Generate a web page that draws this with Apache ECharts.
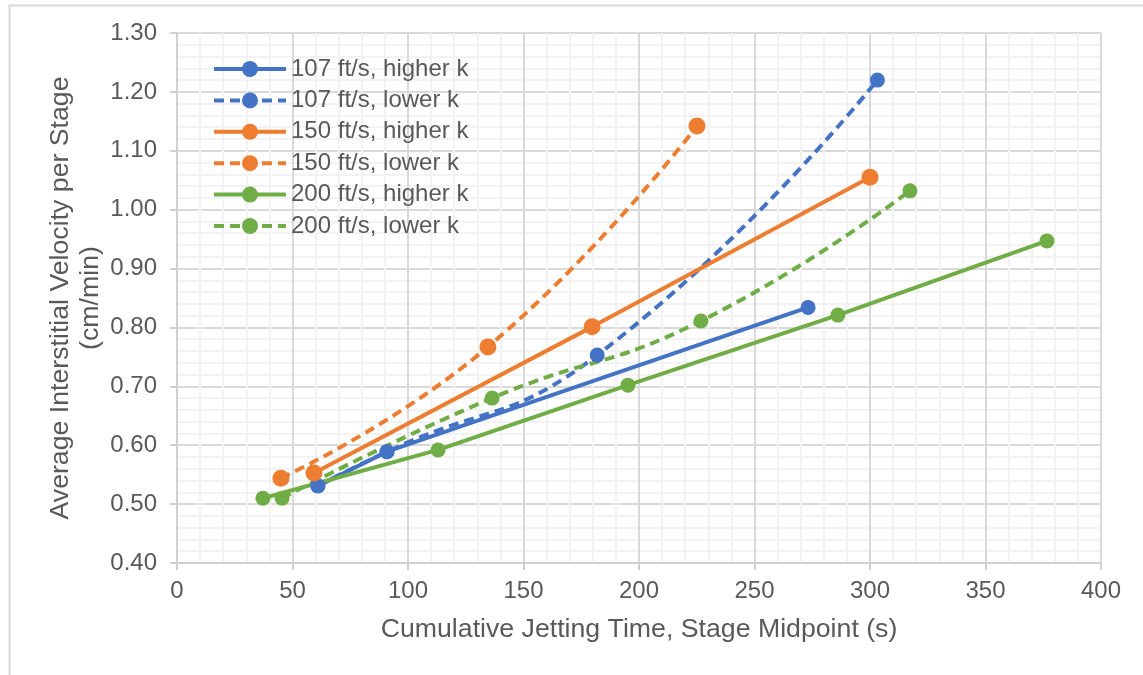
<!DOCTYPE html>
<html>
<head>
<meta charset="utf-8">
<script src="https://cdn.jsdelivr.net/npm/echarts@6/dist/echarts.min.js"></script>
<style>
html,body{margin:0;padding:0;background:#fff;}
#chart{width:1143px;height:675px;}
</style>
</head>
<body>
<div id="chart"></div>
<script>
// ---- data ----
const seriesNames = ["107 ft/s, higher k","107 ft/s, lower k","150 ft/s, higher k","150 ft/s, lower k","200 ft/s, higher k","200 ft/s, lower k"];
const t107hi = [61.0, 90.9, 273.2];
const v107hi = [0.531, 0.589, 0.834];
const t107lo = [61.0, 90.9, 181.9, 303.2];
const v107lo = [0.531, 0.589, 0.753, 1.220];
const t150hi = [59.3, 179.7, 300.0];
const v150hi = [0.553, 0.801, 1.055];
const t150lo = [45.0, 134.6, 225.1];
const v150lo = [0.544, 0.767, 1.142];
const t200hi = [37.2, 113.0, 195.2, 286.1, 376.6];
const v200hi = [0.510, 0.592, 0.702, 0.821, 0.947];
const t200lo = [45.5, 136.4, 226.8, 317.3];
const v200lo = [0.510, 0.680, 0.811, 1.032];
const xTicks = [0, 50, 100, 150, 200, 250, 300, 350, 400];
const yTicks = [0.40, 0.50, 0.60, 0.70, 0.80, 0.90, 1.00, 1.10, 1.20, 1.30];
const xTitle = "Cumulative Jetting Time, Stage Midpoint (s)";
const yTitle = "Average Interstitial Velocity per Stage\n(cm/min)";

const BLUE = "#4472C4", ORANGE = "#ED7D31", GREEN = "#70AD47";
const TEXT = "#595959";
const FONT = "Liberation Sans, Arial, sans-serif";

function pairs(xs, ys){ return xs.map((x,i)=>[x, ys[i]]); }

function mk(name, xs, ys, color, dashed, size){
  return {
    name: name, type: 'line',
    data: pairs(xs, ys),
    symbol: 'circle', symbolSize: size,
    smooth: dashed ? 0.5 : false,
    lineStyle: {color: color, width: 4, type: dashed ? [10, 6] : 'solid', cap: 'butt'},
    itemStyle: {color: color, borderWidth: 0},
    emphasis: {disabled: true},
    animation: false
  };
}

const chart = echarts.init(document.getElementById('chart'), null, {renderer: 'canvas'});
chart.setOption({
  backgroundColor: '#fff',
  animation: false,
  textStyle: {fontFamily: FONT, color: TEXT},
  graphic: [{
    type: 'rect', left: 7, top: 3, shape: {width: 1300, height: 800},
    style: {fill: 'none', stroke: '#D9D9D9', lineWidth: 2}, silent: true, z: -10
  }],
  grid: {left: 177, right: 42, top: 33, bottom: 112, containLabel: false},
  legend: {
    orient: 'vertical', left: 207, top: 50, padding: 5,
    itemWidth: 72, itemHeight: 20, itemGap: 3.4,
    lineStyle: {width: 4},
    itemStyle: {borderWidth: 0},
    textStyle: {fontFamily: FONT, fontSize: 24, color: TEXT, lineHeight: 28},
    data: seriesNames
  },
  xAxis: {
    type: 'value', min: xTicks[0], max: xTicks[xTicks.length-1], interval: 50,
    name: xTitle, nameLocation: 'middle', nameGap: 53, nameMoveOverlap: false,
    nameTextStyle: {fontFamily: FONT, fontSize: 26.7, color: TEXT},
    axisLine: {show: true, onZero: false, lineStyle: {color: '#D0D0D0', width: 2}},
    axisTick: {show: true, length: 7, lineStyle: {color: '#D0D0D0', width: 2}},
    axisLabel: {fontFamily: FONT, fontSize: 24, color: TEXT, margin: 16},
    splitLine: {show: true, lineStyle: {color: '#D9D9D9', width: 2}},
    minorTick: {show: false, splitNumber: 5},
    minorSplitLine: {show: true, lineStyle: {color: '#F2F2F2', width: 2}}
  },
  yAxis: {
    type: 'value', min: yTicks[0], max: yTicks[yTicks.length-1], interval: 0.1,
    name: yTitle, nameLocation: 'middle', nameGap: 71, nameRotate: 90, nameMoveOverlap: false,
    nameTextStyle: {fontFamily: FONT, fontSize: 26.7, color: TEXT, lineHeight: 30, align: 'center'},
    axisLine: {show: true, lineStyle: {color: '#D0D0D0', width: 2}},
    axisTick: {show: true, length: 7, lineStyle: {color: '#D0D0D0', width: 2}},
    axisLabel: {fontFamily: FONT, fontSize: 24, color: TEXT, margin: 20,
      formatter: v => v.toFixed(2)},
    splitLine: {show: true, lineStyle: {color: '#D9D9D9', width: 2}},
    minorTick: {show: false, splitNumber: 5},
    minorSplitLine: {show: true, lineStyle: {color: '#F2F2F2', width: 2}}
  },
  series: [
    mk(seriesNames[0], t107hi, v107hi, BLUE, false, 15),
    mk(seriesNames[1], t107lo, v107lo, BLUE, true, 15),
    mk(seriesNames[2], t150hi, v150hi, ORANGE, false, 17),
    mk(seriesNames[3], t150lo, v150lo, ORANGE, true, 17),
    mk(seriesNames[4], t200hi, v200hi, GREEN, false, 15),
    mk(seriesNames[5], t200lo, v200lo, GREEN, true, 15)
  ]
});
</script>
</body>
</html>
